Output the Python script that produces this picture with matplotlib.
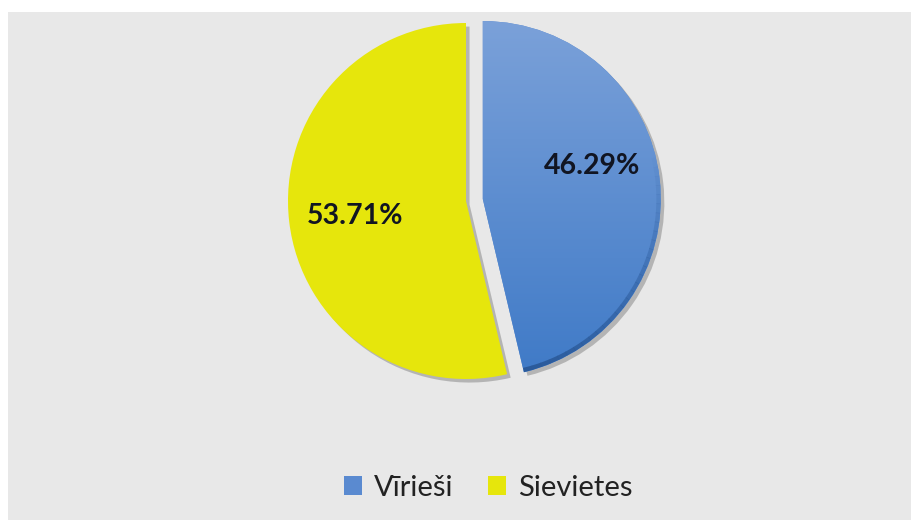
import numpy as np
import matplotlib.pyplot as plt
from matplotlib.patches import Rectangle, Wedge
from matplotlib.colors import LinearSegmentedColormap

# --- dati ---
labels = ['Vīrieši', 'Sievietes']
values = [46.29, 53.71]
colors = ['#5a8ad0', '#e6e60c']

plt.rcParams['font.family'] = ['Lato', 'DejaVu Sans']

fig = plt.figure(figsize=(9.12, 5.2), dpi=100, facecolor='white')

# pelēks fons
fig.patches.append(Rectangle((8 / 912, 0), 1, 1 - 12 / 520, transform=fig.transFigure,
                             facecolor='#e8e8e8', edgecolor='none', zorder=-5))

# asis: centrs (466, 201) px, rādiuss 178 px
L = 1.2
W = 2 * L * 178
cx, cy = 466, 520 - 201
ax = fig.add_axes([(cx - W / 2) / 912, (cy - W / 2) / 520, W / 912, W / 520])
ax.set_zorder(1)
ax.set_xlim(-L, L)
ax.set_ylim(-L, L)
ax.set_aspect('equal')
ax.axis('off')

explode = [0.095, 0]
wedges, texts, autotexts = ax.pie(values, colors=colors, startangle=90, counterclock=False,
                                  explode=explode, autopct='%.2f%%', pctdistance=0.65,
                                  wedgeprops=dict(linewidth=0, zorder=3),
                                  textprops=dict(fontsize=20.5, fontweight='bold', color='#111522'))
for t in autotexts:
    t.set_zorder(6)
autotexts[0].set_position((autotexts[0].get_position()[0] - 0.03,
                           autotexts[0].get_position()[1] + 0.11))
autotexts[1].set_position((autotexts[1].get_position()[0] + 0.02,
                           autotexts[1].get_position()[1] - 0.01))

# ēnas
sh = 0.02
for w in wedges:
    c = w.center
    s = Wedge((c[0] + sh, c[1] - sh), w.r, w.theta1, w.theta2, facecolor='#555555',
              alpha=0.35, edgecolor='none', zorder=2)
    ax.add_patch(s)

# gradients zilajam sektoram
b = wedges[0]
grad = np.linspace(0, 1, 256).reshape(-1, 1)
cmap = LinearSegmentedColormap.from_list('b', ['#7ba1d9', '#3f7ac7'])
im = ax.imshow(grad, cmap=cmap, extent=(b.center[0] - 1, b.center[0] + 1,
                                       b.center[1] - 1, b.center[1] + 1),
               origin='upper', aspect='auto', zorder=4)
im.set_clip_path(b)
# tumšā mala apakšējā lokā, pakāpeniski izzūd uz augšu
n = 30
for i in range(n):
    a0 = b.theta1 + i * 3
    edge = Wedge(b.center, b.r, a0, a0 + 3.2, width=0.025, facecolor='#2b5a9a',
                 edgecolor='none', alpha=max(0.0, 1 - i / n), zorder=5)
    edge.set_clip_path(b)
    ax.add_patch(edge)
ax.set_xlim(-L, L)
ax.set_ylim(-L, L)

leg = fig.legend(wedges, labels, loc='center', bbox_to_anchor=(0.535, 1 - 488 / 520), ncol=2,
                 frameon=False, fontsize=21, handlelength=0.62, handleheight=0.62,
                 handletextpad=0.4, columnspacing=1.2, labelcolor='#222222')
leg.set_zorder(10)

plt.savefig('out.png', dpi=100, facecolor=fig.get_facecolor())
